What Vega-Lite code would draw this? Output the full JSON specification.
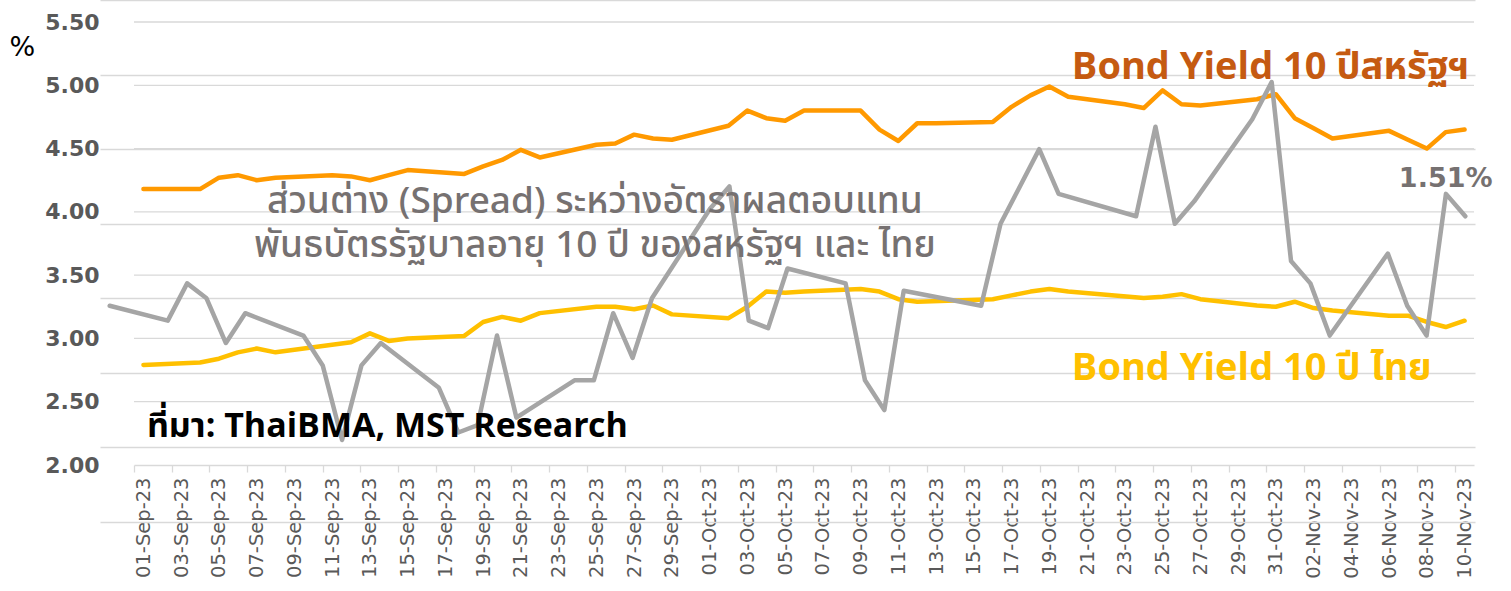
{
  "$schema": "https://vega.github.io/schema/vega-lite/v6.json",
  "width": 1375,
  "height": 522,
  "autosize": {"type": "none"},
  "padding": {"left": 100, "top": 0, "right": 36, "bottom": 69},
  "background": "white",
  "config": {"view": {"stroke": null}, "font": "DejaVu Sans", "axis": {"labelOverlap": false}},
  "datasets": {
    "bond": [
      {"date": "2023-09-01", "us": 4.18, "th": 2.79, "spread": 1.39},
      {"date": "2023-09-04", "us": 4.18, "th": 2.81, "spread": 1.37},
      {"date": "2023-09-05", "us": 4.27, "th": 2.84, "spread": 1.42},
      {"date": "2023-09-06", "us": 4.29, "th": 2.89, "spread": 1.40},
      {"date": "2023-09-07", "us": 4.25, "th": 2.92, "spread": 1.34},
      {"date": "2023-09-08", "us": 4.27, "th": 2.89, "spread": 1.38},
      {"date": "2023-09-11", "us": 4.29, "th": 2.95, "spread": 1.35},
      {"date": "2023-09-12", "us": 4.28, "th": 2.97, "spread": 1.31},
      {"date": "2023-09-13", "us": 4.25, "th": 3.04, "spread": 1.21},
      {"date": "2023-09-14", "us": 4.29, "th": 2.98, "spread": 1.31},
      {"date": "2023-09-15", "us": 4.33, "th": 3.00, "spread": 1.34},
      {"date": "2023-09-18", "us": 4.30, "th": 3.02, "spread": 1.28},
      {"date": "2023-09-19", "us": 4.36, "th": 3.13, "spread": 1.22},
      {"date": "2023-09-20", "us": 4.41, "th": 3.17, "spread": 1.23},
      {"date": "2023-09-21", "us": 4.49, "th": 3.14, "spread": 1.35},
      {"date": "2023-09-22", "us": 4.43, "th": 3.20, "spread": 1.24},
      {"date": "2023-09-25", "us": 4.53, "th": 3.25, "spread": 1.29},
      {"date": "2023-09-26", "us": 4.54, "th": 3.25, "spread": 1.29},
      {"date": "2023-09-27", "us": 4.61, "th": 3.23, "spread": 1.38},
      {"date": "2023-09-28", "us": 4.58, "th": 3.26, "spread": 1.32},
      {"date": "2023-09-29", "us": 4.57, "th": 3.19, "spread": 1.40},
      {"date": "2023-10-02", "us": 4.68, "th": 3.16, "spread": 1.52},
      {"date": "2023-10-03", "us": 4.80, "th": 3.25, "spread": 1.55},
      {"date": "2023-10-04", "us": 4.74, "th": 3.37, "spread": 1.37},
      {"date": "2023-10-05", "us": 4.72, "th": 3.36, "spread": 1.36},
      {"date": "2023-10-06", "us": 4.80, "th": 3.37, "spread": 1.44},
      {"date": "2023-10-09", "us": 4.80, "th": 3.39, "spread": 1.42},
      {"date": "2023-10-10", "us": 4.65, "th": 3.37, "spread": 1.29},
      {"date": "2023-10-11", "us": 4.56, "th": 3.31, "spread": 1.25},
      {"date": "2023-10-12", "us": 4.70, "th": 3.29, "spread": 1.41},
      {"date": "2023-10-13", "us": 4.70, "th": null, "spread": null},
      {"date": "2023-10-16", "us": 4.71, "th": 3.31, "spread": 1.39},
      {"date": "2023-10-17", "us": 4.83, "th": 3.34, "spread": 1.50},
      {"date": "2023-10-18", "us": 4.92, "th": 3.37, "spread": 1.55},
      {"date": "2023-10-19", "us": 4.99, "th": 3.39, "spread": 1.60},
      {"date": "2023-10-20", "us": 4.91, "th": 3.37, "spread": 1.54},
      {"date": "2023-10-23", "us": 4.85, "th": null, "spread": null},
      {"date": "2023-10-24", "us": 4.82, "th": 3.32, "spread": 1.51},
      {"date": "2023-10-25", "us": 4.96, "th": 3.33, "spread": 1.63},
      {"date": "2023-10-26", "us": 4.85, "th": 3.35, "spread": 1.50},
      {"date": "2023-10-27", "us": 4.84, "th": 3.31, "spread": 1.53},
      {"date": "2023-10-30", "us": 4.89, "th": 3.26, "spread": 1.64},
      {"date": "2023-10-31", "us": 4.93, "th": 3.25, "spread": 1.69},
      {"date": "2023-11-01", "us": 4.74, "th": 3.29, "spread": 1.45},
      {"date": "2023-11-02", "us": 4.66, "th": 3.24, "spread": 1.42},
      {"date": "2023-11-03", "us": 4.58, "th": 3.22, "spread": 1.35},
      {"date": "2023-11-06", "us": 4.64, "th": 3.18, "spread": 1.46},
      {"date": "2023-11-07", "us": 4.57, "th": 3.18, "spread": 1.39},
      {"date": "2023-11-08", "us": 4.50, "th": 3.13, "spread": 1.35},
      {"date": "2023-11-09", "us": 4.63, "th": 3.09, "spread": 1.54},
      {"date": "2023-11-10", "us": 4.65, "th": 3.14, "spread": 1.51}
    ]
  },
  "data": {"name": "bond"},
  "layer": [
    {
      "layer": [
        {
          "data": {"values": [{"v": 2.5}, {"v": 3.0}, {"v": 3.5}, {"v": 4.0}, {"v": 4.5}, {"v": 5.0}, {"v": 5.5}]},
          "mark": {"type": "rule", "color": "#D9D9D9", "strokeWidth": 1.3},
          "encoding": {
            "x": {"datum": {"year": 2023, "month": 8, "date": 31, "hours": 12, "utc": true}, "type": "temporal", "axis": {"labelOverlap": false, "tickCount": 100}},
            "x2": {"datum": {"year": 2023, "month": 11, "date": 10, "hours": 12, "utc": true}},
            "y": {"field": "v", "type": "quantitative"}
          }
        },
        {
          "mark": {"type": "line", "color": "#FF9900", "strokeWidth": 4.5, "strokeCap": "round", "strokeJoin": "round"},
          "encoding": {
            "x": {
              "field": "date", "type": "temporal",
              "scale": {"type": "utc", "domain": [{"year": 2023, "month": 8, "date": 31, "hours": 12, "utc": true}, {"year": 2023, "month": 11, "date": 10, "hours": 12, "utc": true}], "range": [34, 1374]},
              "axis": {
                "values": [
                  {"year": 2023, "month": 9, "date": 1, "utc": true}, {"year": 2023, "month": 9, "date": 3, "utc": true},
                  {"year": 2023, "month": 9, "date": 5, "utc": true}, {"year": 2023, "month": 9, "date": 7, "utc": true},
                  {"year": 2023, "month": 9, "date": 9, "utc": true}, {"year": 2023, "month": 9, "date": 11, "utc": true},
                  {"year": 2023, "month": 9, "date": 13, "utc": true}, {"year": 2023, "month": 9, "date": 15, "utc": true},
                  {"year": 2023, "month": 9, "date": 17, "utc": true}, {"year": 2023, "month": 9, "date": 19, "utc": true},
                  {"year": 2023, "month": 9, "date": 21, "utc": true}, {"year": 2023, "month": 9, "date": 23, "utc": true},
                  {"year": 2023, "month": 9, "date": 25, "utc": true}, {"year": 2023, "month": 9, "date": 27, "utc": true},
                  {"year": 2023, "month": 9, "date": 29, "utc": true}, {"year": 2023, "month": 10, "date": 1, "utc": true},
                  {"year": 2023, "month": 10, "date": 3, "utc": true}, {"year": 2023, "month": 10, "date": 5, "utc": true},
                  {"year": 2023, "month": 10, "date": 7, "utc": true}, {"year": 2023, "month": 10, "date": 9, "utc": true},
                  {"year": 2023, "month": 10, "date": 11, "utc": true}, {"year": 2023, "month": 10, "date": 13, "utc": true},
                  {"year": 2023, "month": 10, "date": 15, "utc": true}, {"year": 2023, "month": 10, "date": 17, "utc": true},
                  {"year": 2023, "month": 10, "date": 19, "utc": true}, {"year": 2023, "month": 10, "date": 21, "utc": true},
                  {"year": 2023, "month": 10, "date": 23, "utc": true}, {"year": 2023, "month": 10, "date": 25, "utc": true},
                  {"year": 2023, "month": 10, "date": 27, "utc": true}, {"year": 2023, "month": 10, "date": 29, "utc": true},
                  {"year": 2023, "month": 10, "date": 31, "utc": true}, {"year": 2023, "month": 11, "date": 2, "utc": true},
                  {"year": 2023, "month": 11, "date": 4, "utc": true}, {"year": 2023, "month": 11, "date": 6, "utc": true},
                  {"year": 2023, "month": 11, "date": 8, "utc": true}, {"year": 2023, "month": 11, "date": 10, "utc": true}
                ],
                "tickCount": 100,
                "labelExpr": "utcFormat(datum.value, '%d-%b-%y')",
                "labelAngle": -90,
                "labelFontSize": 19.5,
                "labelColor": "#595959",
                "labelPadding": 5,
                "labelOverlap": false,
                "labelFlush": false,
                "labelBound": false,
                "tickOffset": -9.44,
                "labelOffset": 9.44,
                "tickSize": 7,
                "tickColor": "#D9D9D9",
                "tickWidth": 1.3,
                "domainColor": "#D9D9D9",
                "domainWidth": 1.3,
                "grid": false,
                "offset": -57,
                "title": null
              }
            },
            "y": {
              "field": "us", "type": "quantitative",
              "scale": {"domain": [2, 5.5], "range": [465, 22], "nice": false, "zero": false},
              "axis": {
                "values": [2, 2.5, 3, 3.5, 4, 4.5, 5, 5.5],
                "format": ".2f",
                "labelFontSize": 22,
                "labelFontWeight": "bold",
                "labelColor": "#595959",
                "labelPadding": 1,
                "ticks": false,
                "domain": false,
                "grid": false,
                "title": "%",
                "titleAngle": 0,
                "titleX": -91,
                "titleY": 55,
                "titleAlign": "left",
                "titleBaseline": "alphabetic",
                "titleFontSize": 27,
                "titleFontWeight": "normal",
                "titleColor": "#000000"
              }
            }
          }
        },
        {
          "transform": [{"filter": "isValid(datum.th)"}],
          "mark": {"type": "line", "color": "#FFC000", "strokeWidth": 4.5, "strokeCap": "round", "strokeJoin": "round"},
          "encoding": {
            "x": {"field": "date", "type": "temporal"},
            "y": {"field": "th", "type": "quantitative"}
          }
        }
      ]
    },
    {
      "transform": [{"filter": "isValid(datum.spread)"}],
      "mark": {"type": "line", "color": "#A5A5A5", "strokeWidth": 4.5, "strokeCap": "round", "strokeJoin": "round"},
      "encoding": {
        "x": {
          "field": "date", "type": "temporal",
          "scale": {"type": "utc", "domain": [{"year": 2023, "month": 8, "date": 31, "hours": 12, "utc": true}, {"year": 2023, "month": 11, "date": 10, "hours": 12, "utc": true}]},
          "axis": {"orient": "bottom", "labels": false, "ticks": false, "grid": false, "domainColor": "#D9D9D9", "domainWidth": 1.3, "title": null}
        },
        "y": {
          "field": "spread", "type": "quantitative",
          "scale": {"domain": [1.1, 1.8], "nice": false, "zero": false},
          "axis": {"orient": "right", "labels": false, "ticks": false, "domain": false, "grid": true, "gridColor": "#D9D9D9", "gridWidth": 1.3, "values": [1.2, 1.3, 1.4, 1.5, 1.6, 1.7, 1.8], "tickCount": 20, "title": null}
        }
      }
    },
    {
      "data": {"values": [{}]},
      "encoding": {
        "x": {"type": "temporal", "scale": {"type": "utc", "domain": [{"year": 2023, "month": 8, "date": 31, "hours": 12, "utc": true}, {"year": 2023, "month": 11, "date": 10, "hours": 12, "utc": true}], "range": [34, 1374]}, "axis": null},
        "y": {"type": "quantitative", "scale": {"domain": [2, 5.5], "range": [465, 22], "nice": false, "zero": false}, "axis": null}
      },
      "layer": [
        {
          "mark": {"type": "text", "text": "Bond Yield 10 ปีสหรัฐฯ", "align": "left", "baseline": "alphabetic", "font": "'Noto Sans Thai', 'Noto Sans', sans-serif", "fontSize": 38, "fontWeight": "bold", "color": "#C55A11"},
          "encoding": {
            "x": {"datum": {"year": 2023, "month": 10, "date": 20, "hours": 4, "minutes": 36, "utc": true}, "type": "temporal"},
            "y": {"datum": 5.05}
          }
        },
        {
          "mark": {"type": "text", "text": "Bond Yield 10 ปี ไทย", "align": "left", "baseline": "alphabetic", "font": "'Noto Sans Thai', 'Noto Sans', sans-serif", "fontSize": 38, "fontWeight": "bold", "color": "#FFC000"},
          "encoding": {
            "x": {"datum": {"year": 2023, "month": 10, "date": 20, "hours": 4, "minutes": 36, "utc": true}, "type": "temporal"},
            "y": {"datum": 2.67}
          }
        },
        {
          "mark": {"type": "text", "text": "ส่วนต่าง (Spread) ระหว่างอัตราผลตอบแทน", "align": "center", "baseline": "alphabetic", "font": "'Noto Sans Thai', 'Noto Sans', sans-serif", "fontSize": 37, "fontWeight": 500, "color": "#767171"},
          "encoding": {
            "x": {"datum": {"year": 2023, "month": 9, "date": 24, "hours": 22, "utc": true}, "type": "temporal"},
            "y": {"datum": 3.99}
          }
        },
        {
          "mark": {"type": "text", "text": "พันธบัตรรัฐบาลอายุ 10 ปี ของสหรัฐฯ และ ไทย", "align": "center", "baseline": "alphabetic", "font": "'Noto Sans Thai', 'Noto Sans', sans-serif", "fontSize": 37, "fontWeight": 500, "color": "#767171"},
          "encoding": {
            "x": {"datum": {"year": 2023, "month": 9, "date": 24, "hours": 22, "utc": true}, "type": "temporal"},
            "y": {"datum": 3.64}
          }
        },
        {
          "mark": {"type": "text", "text": "ที่มา: ThaiBMA, MST Research", "align": "left", "baseline": "alphabetic", "font": "'Noto Sans Thai', 'Noto Sans', sans-serif", "fontSize": 34, "fontWeight": "bold", "color": "#000000"},
          "encoding": {
            "x": {"datum": {"year": 2023, "month": 9, "date": 1, "hours": 4, "minutes": 30, "utc": true}, "type": "temporal"},
            "y": {"datum": 2.22}
          }
        },
        {
          "mark": {"type": "text", "text": "1.51%", "align": "center", "baseline": "alphabetic", "fontSize": 27, "fontWeight": "bold", "color": "#767171"},
          "encoding": {
            "x": {"datum": {"year": 2023, "month": 11, "date": 9, "utc": true}, "type": "temporal"},
            "y": {"datum": 4.2}
          }
        }
      ]
    }
  ],
  "resolve": {
    "scale": {"x": "independent", "y": "independent"},
    "axis": {"x": "independent", "y": "independent"}
  }
}
